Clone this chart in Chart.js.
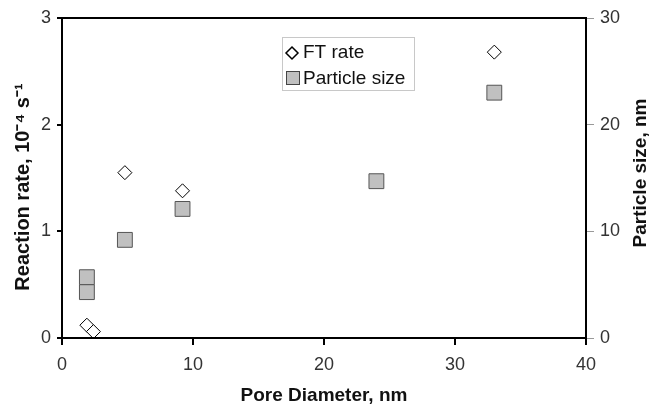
<!DOCTYPE html>
<html lang="en">
  <head>
    <meta charset="UTF-8" />
    <script src="https://cdn.jsdelivr.net/npm/chart.js@4.4.0/dist/chart.umd.min.js"></script>
    <title>Pore diameter chart</title>
    <style>
      html, body { margin: 0; padding: 0; background: #fff; }
      #wrap { width: 650px; height: 404px; }
    </style>
  </head>
  <body>
    <div id="wrap"><canvas id="myChart" width="650" height="404"></canvas></div>
    <script>
      // values
      const poreFT = [1.9, 2.4, 4.8, 9.2, 33.0];
      const ftRate = [0.12, 0.06, 1.55, 1.38, 2.68];
      const poreSize = [1.9, 1.9, 4.8, 9.2, 24.0, 33.0];
      const particleSize = [5.7, 4.3, 9.2, 12.1, 14.7, 23.0];
      const seriesNames = ["FT rate", "Particle size"];
      const xTitle = "Pore Diameter, nm";
      const yTitle = "Reaction rate, 10\u207B\u2074 s\u207B\u00B9";
      const y2Title = "Particle size, nm";

      const font = "'Liberation Sans', Arial, sans-serif";

      const toPoints = (xs, ys) => xs.map((x, i) => ({ x: x, y: ys[i] }));

      // frame, axis titles and the legend box inside the plot
      const extras = {
        id: "extras",
        afterDraw(chart) {
          const ctx = chart.ctx;
          const a = chart.chartArea;
          ctx.save();
          ctx.strokeStyle = "#000";
          ctx.lineWidth = 2;
          ctx.strokeRect(a.left, a.top, a.right - a.left, a.bottom - a.top);

          ctx.fillStyle = "#111";
          ctx.font = "bold 19px " + font;
          ctx.textAlign = "center";
          ctx.textBaseline = "alphabetic";
          ctx.fillText(xTitle, (a.left + a.right) / 2, 401);

          ctx.textBaseline = "middle";
          ctx.save();
          ctx.translate(23, 187);
          ctx.rotate(-Math.PI / 2);
          ctx.font = "bold 20px " + font;
          ctx.fillText(yTitle, 0, 0);
          ctx.restore();

          ctx.save();
          ctx.translate(641, 173);
          ctx.rotate(-Math.PI / 2);
          ctx.fillText(y2Title, 0, 0);
          ctx.restore();

          // legend
          ctx.strokeStyle = "#c8c8c8";
          ctx.lineWidth = 1;
          ctx.strokeRect(282.5, 37.5, 132, 53);
          ctx.font = "19px " + font;
          ctx.textAlign = "left";
          ctx.textBaseline = "alphabetic";
          ctx.fillStyle = "#111";
          ctx.fillText(seriesNames[0], 303, 58);
          ctx.fillText(seriesNames[1], 303, 84);
          // diamond marker
          ctx.beginPath();
          ctx.moveTo(292, 47); ctx.lineTo(298, 53); ctx.lineTo(292, 59); ctx.lineTo(286, 53);
          ctx.closePath();
          ctx.fillStyle = "#fff"; ctx.fill();
          ctx.lineWidth = 1.5;
          ctx.strokeStyle = "#000"; ctx.stroke();
          // square marker
          ctx.lineWidth = 1;
          ctx.fillStyle = "#c0c0c0";
          ctx.fillRect(286.5, 71.5, 13, 13);
          ctx.strokeStyle = "#444";
          ctx.strokeRect(286.5, 71.5, 13, 13);
          ctx.restore();
        }
      };

      const tickFont = { family: font, size: 18 };

      const ctx = document.getElementById("myChart").getContext("2d");
      const myChart = new Chart(ctx, {
        type: "scatter",
        data: {
          datasets: [
            {
              label: seriesNames[1],
              data: toPoints(poreSize, particleSize),
              yAxisID: "y2",
              pointStyle: "rect",
              pointRadius: 10.5,
              pointHoverRadius: 10.5,
              backgroundColor: "#c0c0c0",
              borderColor: "#555",
              borderWidth: 1
            },
            {
              label: seriesNames[0],
              data: toPoints(poreFT, ftRate),
              yAxisID: "y",
              pointStyle: "rectRot",
              pointRadius: 7,
              pointHoverRadius: 7,
              backgroundColor: "#fff",
              borderColor: "#000",
              borderWidth: 1
            }
          ]
        },
        options: {
          responsive: false,
          animation: false,
          events: [],
          layout: { padding: { top: 18, left: 0, right: 0, bottom: 0 } },
          plugins: { legend: { display: false }, tooltip: { enabled: false } },
          scales: {
            x: {
              type: "linear",
              min: 0,
              max: 40,
              ticks: { stepSize: 10, color: "#333", font: tickFont, padding: 9 },
              grid: { drawOnChartArea: false, color: "#000", tickLength: 7, lineWidth: 2 },
              border: { display: false },
              afterFit: s => { s.height = 66; }
            },
            y: {
              position: "left",
              min: 0,
              max: 3,
              ticks: { stepSize: 1, color: "#333", font: tickFont, padding: 6 },
              grid: { drawOnChartArea: false, color: "#000", tickLength: 5, lineWidth: 2 },
              border: { display: false },
              afterFit: s => { s.width = 62; }
            },
            y2: {
              position: "right",
              min: 0,
              max: 30,
              ticks: { stepSize: 10, color: "#333", font: tickFont, padding: 6 },
              grid: { drawOnChartArea: false, color: "#999", tickLength: 8, lineWidth: 1 },
              border: { display: false },
              afterFit: s => { s.width = 64; }
            }
          }
        },
        plugins: [extras]
      });
    </script>
  </body>
</html>
